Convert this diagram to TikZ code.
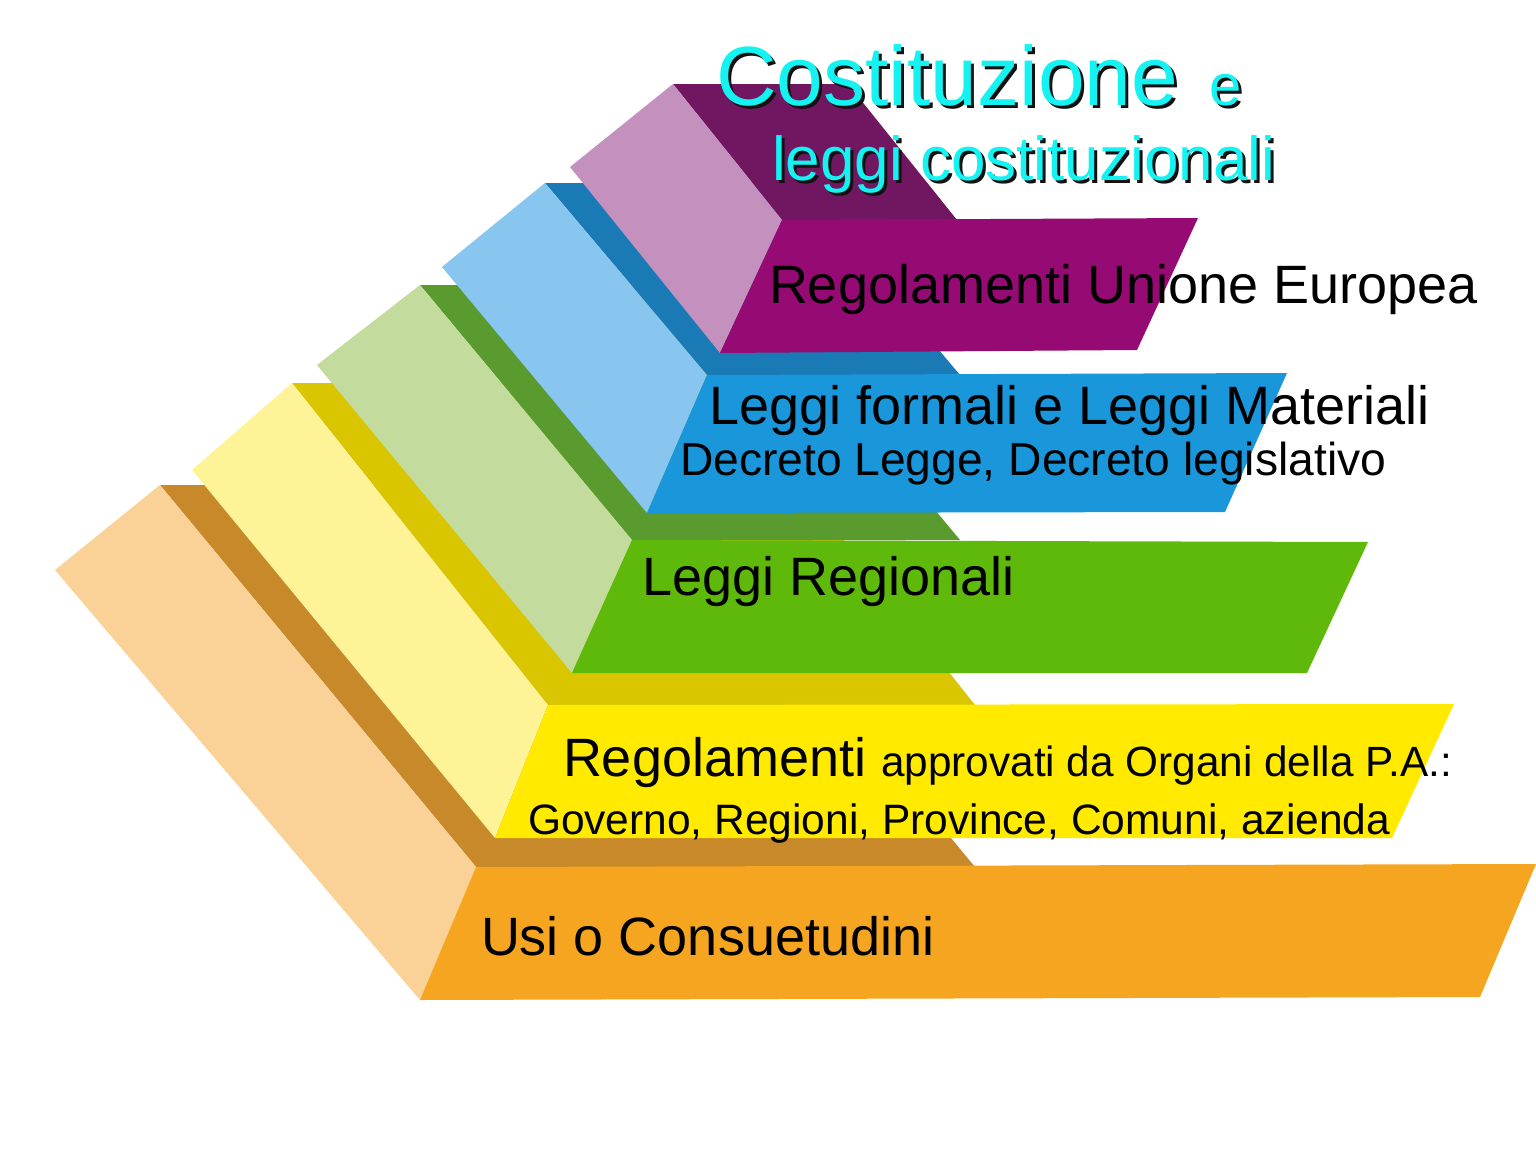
\documentclass[tikz,border=0pt]{standalone}
\usepackage{fontspec}
\setmainfont{Liberation Sans}
\definecolor{oFront}{HTML}{F5A51F}
\definecolor{oTop}{HTML}{C8892A}
\definecolor{oPale}{HTML}{FAD197}
\definecolor{yFront}{HTML}{FFEA00}
\definecolor{yTop}{HTML}{D9C500}
\definecolor{yPale}{HTML}{FFF397}
\definecolor{gFront}{HTML}{5FB90B}
\definecolor{gTop}{HTML}{5A9B2F}
\definecolor{gPale}{HTML}{C4DB9E}
\definecolor{bFront}{HTML}{1A96DB}
\definecolor{bTop}{HTML}{1A7AB6}
\definecolor{bPale}{HTML}{88C5EF}
\definecolor{pFront}{HTML}{960A74}
\definecolor{pTop}{HTML}{711762}
\definecolor{pPale}{HTML}{C491BE}
\definecolor{titleCyan}{HTML}{14F2F2}
\definecolor{titleShadow}{HTML}{111111}
\begin{document}
\begin{tikzpicture}[x=1pt,y=-1pt,
  lbl/.style={anchor=base west, inner sep=0pt, outer sep=0pt, text=black},
  big/.style={font=\fontsize{54}{54}\selectfont},
  small/.style={font=\fontsize{42.5}{42.5}\selectfont},
  ttl/.style={anchor=base west, inner sep=0pt, outer sep=0pt}]
\useasboundingbox (0,0) rectangle (1536,1151);
\fill[white] (0,0) rectangle (1536,1151);
% ---- orange (bottom) block
\fill[oTop] (160,485) -- (659,485) -- (975,867) -- (476,867) -- cycle;
\fill[oPale] (55,570) -- (160,485) -- (476,867) -- (420,1000) -- cycle;
\fill[oFront] (476,867) -- (1536,864) -- (1480,997) -- (420,1000) -- cycle;
% ---- yellow block
\fill[yTop] (292,383) -- (719,383) -- (975,705) -- (548,705) -- cycle;
\fill[yPale] (192,470) -- (292,383) -- (548,705) -- (495,838) -- cycle;
\fill[yFront] (548,705) -- (1454,704) -- (1392,838) -- (495,838) -- cycle;
% ---- green block
\fill[gTop] (420,285) -- (748,285) -- (960,540) -- (632,540) -- cycle;
\fill[gPale] (317,365) -- (420,285) -- (632,540) -- (572,673) -- cycle;
\fill[gFront] (632,540) -- (1368,542) -- (1307,673) -- (572,673) -- cycle;
% ---- blue block
\fill[bTop] (545,183) -- (798,183) -- (960,375) -- (707,375) -- cycle;
\fill[bPale] (442,267) -- (545,183) -- (707,375) -- (647,513) -- cycle;
\fill[bFront] (707,375) -- (1287,373) -- (1225,512) -- (647,513) -- cycle;
% ---- purple (top) block
\fill[pTop] (673,84) -- (848,84) -- (957,220) -- (782,220) -- cycle;
\fill[pPale] (570,167) -- (673,84) -- (782,220) -- (720,353) -- cycle;
\fill[pFront] (782,220) -- (1198,218) -- (1137,350) -- (720,353) -- cycle;
% ---- title with shadow
\node[ttl, text=titleShadow, font=\fontsize{84}{84}\selectfont] (t1s) at (719,108) {Costituzione};
\node[ttl, text=titleCyan, font=\fontsize{84}{84}\selectfont] (t1) at (716,105) {Costituzione};
\node[ttl, text=titleShadow, font=\fontsize{58}{58}\selectfont] (t2s) at (1212,108) {e};
\node[ttl, text=titleCyan, font=\fontsize{58}{58}\selectfont] (t2) at (1209,105) {e};
\node[ttl, text=titleShadow, font=\fontsize{62}{62}\selectfont] (t3s) at (775,183) {leggi costituzionali};
\node[ttl, text=titleCyan, font=\fontsize{62}{62}\selectfont] (t3) at (772,180) {leggi costituzionali};
% ---- labels
\node[lbl, big] (ue) at (769,303) {Regolamenti Unione Europea};
\node[lbl, big] (lf) at (709,424) {Leggi formali e Leggi Materiali};
\node[lbl, font=\fontsize{46.2}{46.2}\selectfont] (dl) at (680,475) {Decreto Legge, Decreto legislativo};
\node[lbl, big] (lr) at (642,595) {Leggi Regionali};
\node[lbl] (rg) at (563,776) {{\fontsize{54}{54}\selectfont Regolamenti }{\fontsize{42.3}{42.3}\selectfont approvati da Organi della P.A.:}};
\node[lbl, small] (gv) at (528,834) {Governo, Regioni, Province, Comuni, azienda};
\node[lbl, big] (uc) at (481,955) {Usi o Consuetudini};
\end{tikzpicture}
\end{document}
